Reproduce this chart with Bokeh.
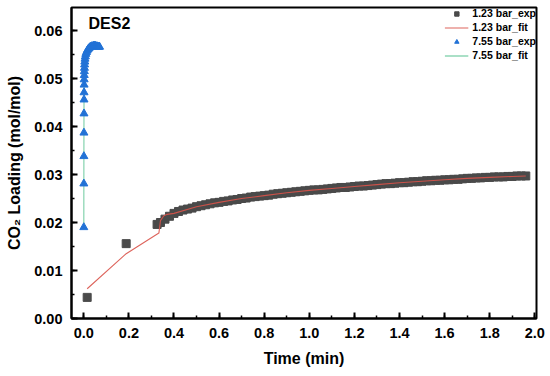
from bokeh.plotting import figure
from bokeh.models import (Range1d, SingleIntervalTicker, NumeralTickFormatter,
                          Legend, LegendItem, Label)
from bokeh.embed import file_html
from bokeh.resources import INLINE

# ---- data ----
t_123_exp = [0.015, 0.188, 0.325,
             0.34, 0.36, 0.38, 0.40, 0.42, 0.44, 0.46, 0.48, 0.50, 0.52, 0.54, 0.56, 0.58,
             0.60, 0.62, 0.64, 0.66, 0.68, 0.70, 0.72, 0.74, 0.76, 0.78, 0.80, 0.82, 0.84,
             0.86, 0.88, 0.90, 0.92, 0.94, 0.96, 0.98, 1.00, 1.02, 1.04, 1.06, 1.08, 1.10,
             1.12, 1.14, 1.16, 1.18, 1.20, 1.22, 1.24, 1.26, 1.28, 1.30, 1.32, 1.34, 1.36,
             1.38, 1.40, 1.42, 1.44, 1.46, 1.48, 1.50, 1.52, 1.54, 1.56, 1.58, 1.60, 1.62,
             1.64, 1.66, 1.68, 1.70, 1.72, 1.74, 1.76, 1.78, 1.80, 1.82, 1.84, 1.86, 1.88,
             1.90, 1.92, 1.94, 1.96]
q_123_exp = [0.0044, 0.0156, 0.0196,
             0.0200, 0.0207, 0.0213, 0.0219, 0.0223, 0.0226, 0.0228, 0.0230, 0.0233, 0.0235,
             0.0237, 0.0239, 0.0241, 0.0242, 0.0244, 0.0245, 0.0247, 0.0248, 0.0250, 0.0251,
             0.0253, 0.0254, 0.0255, 0.0256, 0.0257, 0.0259, 0.0260, 0.0261, 0.0262, 0.0263,
             0.0264, 0.0265, 0.0266, 0.0267, 0.0268, 0.0268, 0.0269, 0.0270, 0.0271, 0.0272,
             0.0273, 0.0273, 0.0274, 0.0275, 0.0276, 0.0276, 0.0277, 0.0278, 0.0279, 0.0280,
             0.0281, 0.0281, 0.0282, 0.0283, 0.0283, 0.0284, 0.0285, 0.0285, 0.0286, 0.0287,
             0.0287, 0.0288, 0.0288, 0.0289, 0.0289, 0.0290, 0.0290, 0.0291, 0.0292, 0.0292,
             0.0293, 0.0293, 0.0294, 0.0294, 0.0295, 0.0295, 0.0295, 0.0296, 0.0296, 0.0297,
             0.0297, 0.0297]

t_123_fit = [0.015, 0.188, 0.333, 0.340, 0.355, 0.370, 0.40, 0.50, 0.60, 0.70, 0.80,
             0.90, 1.00, 1.10, 1.20, 1.30, 1.40, 1.50, 1.60, 1.70, 1.80, 1.90, 1.96]
q_123_fit = [0.0062, 0.0135, 0.0178, 0.0204, 0.0214, 0.0217, 0.0219, 0.0233, 0.0242,
             0.0250, 0.0256, 0.0262, 0.0267, 0.0271, 0.0275, 0.0279, 0.0283, 0.0286,
             0.0289, 0.0292, 0.0294, 0.0296, 0.0297]

t_755_exp = [0.0000, 0.0002, 0.0004, 0.0006, 0.0008, 0.0010, 0.0012, 0.0014, 0.0016,
             0.0020, 0.0025, 0.0030, 0.0035, 0.0045, 0.0055, 0.0070, 0.0090, 0.0120,
             0.0150, 0.0190, 0.0230, 0.0270, 0.0310, 0.0350, 0.0390, 0.0430, 0.0470,
             0.0510, 0.0550, 0.0590, 0.0630, 0.0670, 0.0700]
q_755_exp = [0.0190, 0.0281, 0.0338, 0.0387, 0.0427, 0.0456, 0.0471, 0.0487, 0.0498,
             0.0507, 0.0515, 0.0522, 0.0529, 0.0535, 0.0541, 0.0546, 0.0551, 0.0555,
             0.0558, 0.0561, 0.0563, 0.0565, 0.0566, 0.0567, 0.0567, 0.0568, 0.0568,
             0.0568, 0.0567, 0.0567, 0.0566, 0.0566, 0.0566]
q_755_fit = [0.0190, 0.0280, 0.0339, 0.0386, 0.0426, 0.0455, 0.0472, 0.0486, 0.0497,
             0.0507, 0.0515, 0.0522, 0.0529, 0.0535, 0.0541, 0.0546, 0.0551, 0.0555,
             0.0558, 0.0561, 0.0563, 0.0565, 0.0566, 0.0567, 0.0567, 0.0568, 0.0568,
             0.0568, 0.0567, 0.0567, 0.0566, 0.0566, 0.0566]

series_labels = ["1.23 bar_exp", "1.23 bar_fit", "7.55 bar_exp", "7.55 bar_fit"]
x_title = "Time (min)"
y_title = "CO\u2082 Loading (mol/mol)"
panel_label = "DES2"

FONT = "Liberation Sans"

p = figure(width=550, height=376, output_backend="svg", toolbar_location=None,
           x_range=Range1d(-0.0545, 2.0075), y_range=Range1d(0, 0.0648),
           min_border_left=71, min_border_right=14, min_border_top=7, min_border_bottom=58)
p.background_fill_color = "white"
p.border_fill_color = "white"
p.outline_line_color = "black"
p.outline_line_width = 2
p.grid.visible = False

gray = "#4a4a4a"
red = "#d9534a"
blue = "#2272d6"
green = "#8ed6b4"

r_g_fit = p.line(t_755_exp, q_755_fit, line_color=green, line_width=1.3)
r_b_exp = p.scatter(t_755_exp, q_755_exp, marker="triangle", size=8,
                    fill_color=blue, line_color=blue)
r_s_exp = p.scatter(t_123_exp, q_123_exp, marker="square", size=8,
                    fill_color=gray, line_color=gray)
r_r_fit = p.line(t_123_fit, q_123_fit, line_color=red, line_width=1.1, line_alpha=0.9)

# axes
for ax in (p.xaxis[0], p.yaxis[0]):
    ax.axis_line_width = 2
    ax.axis_line_color = "black"
    ax.major_tick_in = 6
    ax.major_tick_out = 0
    ax.minor_tick_in = 3
    ax.minor_tick_out = 0
    ax.major_tick_line_width = 2
    ax.minor_tick_line_width = 1.5
    ax.major_label_text_font = FONT
    ax.major_label_text_font_style = "bold"
    ax.major_label_text_font_size = "14.5px"
    ax.major_label_text_color = "black"
    ax.axis_label_text_font = FONT
    ax.axis_label_text_font_style = "bold"
    ax.axis_label_text_font_size = "16px"
    ax.axis_label_text_color = "black"

p.xaxis[0].ticker = SingleIntervalTicker(interval=0.2, num_minor_ticks=2)
p.yaxis[0].ticker = SingleIntervalTicker(interval=0.01, num_minor_ticks=2)
p.xaxis[0].formatter = NumeralTickFormatter(format="0.0")
p.yaxis[0].formatter = NumeralTickFormatter(format="0.00")
p.xaxis[0].axis_label = x_title
p.yaxis[0].axis_label = y_title
p.xaxis[0].major_label_standoff = 9
p.xaxis[0].axis_label_standoff = 9
p.yaxis[0].major_label_standoff = 9
p.yaxis[0].axis_label_standoff = 8

legend = Legend(items=[
    LegendItem(label=series_labels[0], renderers=[r_s_exp]),
    LegendItem(label=series_labels[1], renderers=[r_r_fit]),
    LegendItem(label=series_labels[2], renderers=[r_b_exp]),
    LegendItem(label=series_labels[3], renderers=[r_g_fit]),
], location="top_right")
legend.border_line_color = None
legend.background_fill_alpha = 0
legend.margin = 0
legend.padding = 2
legend.spacing = 2
legend.label_height = 11
legend.glyph_height = 11
legend.glyph_width = 24
legend.label_standoff = 4
legend.label_text_font = FONT
legend.label_text_font_style = "bold"
legend.label_text_font_size = "10.5px"
legend.label_text_color = "black"
p.add_layout(legend)

p.add_layout(Label(x=17, y=295, x_units="screen", y_units="screen", text=panel_label,
                   text_font=FONT, text_font_style="bold", text_font_size="16px",
                   text_baseline="middle", text_color="black"))

open("out.html", "w").write(file_html(p, INLINE))
